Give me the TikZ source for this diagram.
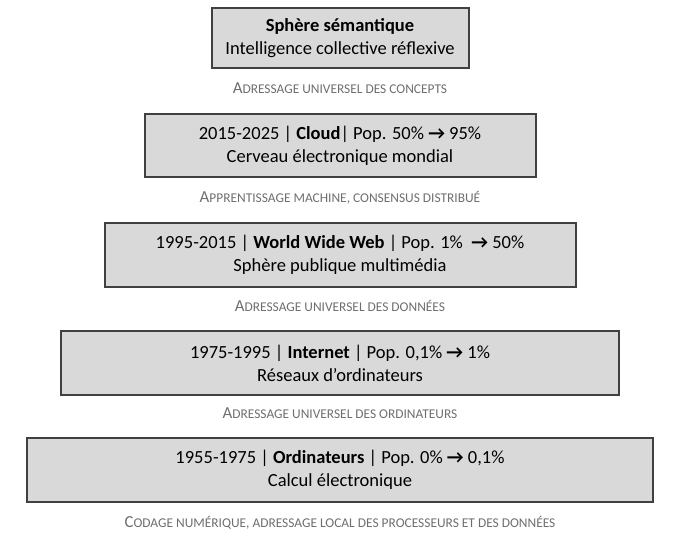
\documentclass[tikz,border=0pt]{standalone}
\usepackage{fontspec}
\setmainfont{Carlito}
\usetikzlibrary{positioning}

\definecolor{boxfill}{RGB}{217,217,217}
\definecolor{boxline}{RGB}{64,64,64}
\definecolor{labgray}{RGB}{110,110,110}

% fake small caps, as the slide does it
\newcommand{\capfirst}[2]{{\fontsize{16.8}{19}\selectfont #1}{\fontsize{13.4}{15}\selectfont #2}}
\newcommand{\arr}{\textbf{→}}

\begin{document}
\begin{tikzpicture}[%
	x=1pt, y=1pt,
	every node/.style={font=\fontsize{18.5}{23}\selectfont, outer sep=0pt},
	node distance=0pt,        % labels sit right in the gaps
	]
	% -------------------------------------------------
	% Box and label styles
	\tikzset{
		base/.style={draw=boxline, line width=2pt, fill=boxfill, align=center, inner sep=0pt},
		layer/.style={base, minimum height=64pt},
		% gap label between two layers
		lab/.style={text=labgray, inner sep=0pt, text height=10pt, text depth=6pt}
	}
	\useasboundingbox (0,0) rectangle (681,-533);

	\node[base, minimum width=257pt, minimum height=60pt] at (340,-38) (b1)
		{\textbf{Sphère sémantique}\\Intelligence collective réflexive};
	\node[lab, minimum height=46pt, below=of b1] (l1)
		{\capfirst{A}{DRESSAGE UNIVERSEL DES CONCEPTS}};

	\node[layer, minimum width=391pt, minimum height=63pt, below=of l1] (b2)
		{2015-2025 | \textbf{Cloud}| Pop. 50\% \arr{} 95\%\\Cerveau électronique mondial};
	\node[lab, minimum height=46pt, below=of b2] (l2)
		{\capfirst{A}{PPRENTISSAGE MACHINE, CONSENSUS DISTRIBUÉ}};

	\node[layer, minimum width=471pt, below=of l2] (b3)
		{1995-2015 | \textbf{World Wide Web} | Pop. 1\%\ \ \arr{} 50\%\\Sphère publique multimédia};
	\node[lab, minimum height=44pt, below=of b3] (l3)
		{\capfirst{A}{DRESSAGE UNIVERSEL DES DONNÉES}};

	\node[layer, minimum width=558pt, below=of l3] (b4)
		{1975-1995 | \textbf{Internet} | Pop. 0,1\% \arr{} 1\%\\Réseaux d’ordinateurs};
	\node[lab, minimum height=43pt, below=of b4] (l4)
		{\capfirst{A}{DRESSAGE UNIVERSEL DES ORDINATEURS}};

	\node[layer, minimum width=626pt, below=of l4] (b5)
		{1955-1975 | \textbf{Ordinateurs} | Pop. 0\% \arr{} 0,1\%\\Calcul électronique};
	\node[lab, minimum height=46pt, below=of b5] (l5)
		{\capfirst{C}{ODAGE NUMÉRIQUE, ADRESSAGE LOCAL DES PROCESSEURS ET DES DONNÉES}};

\end{tikzpicture}
\end{document}
